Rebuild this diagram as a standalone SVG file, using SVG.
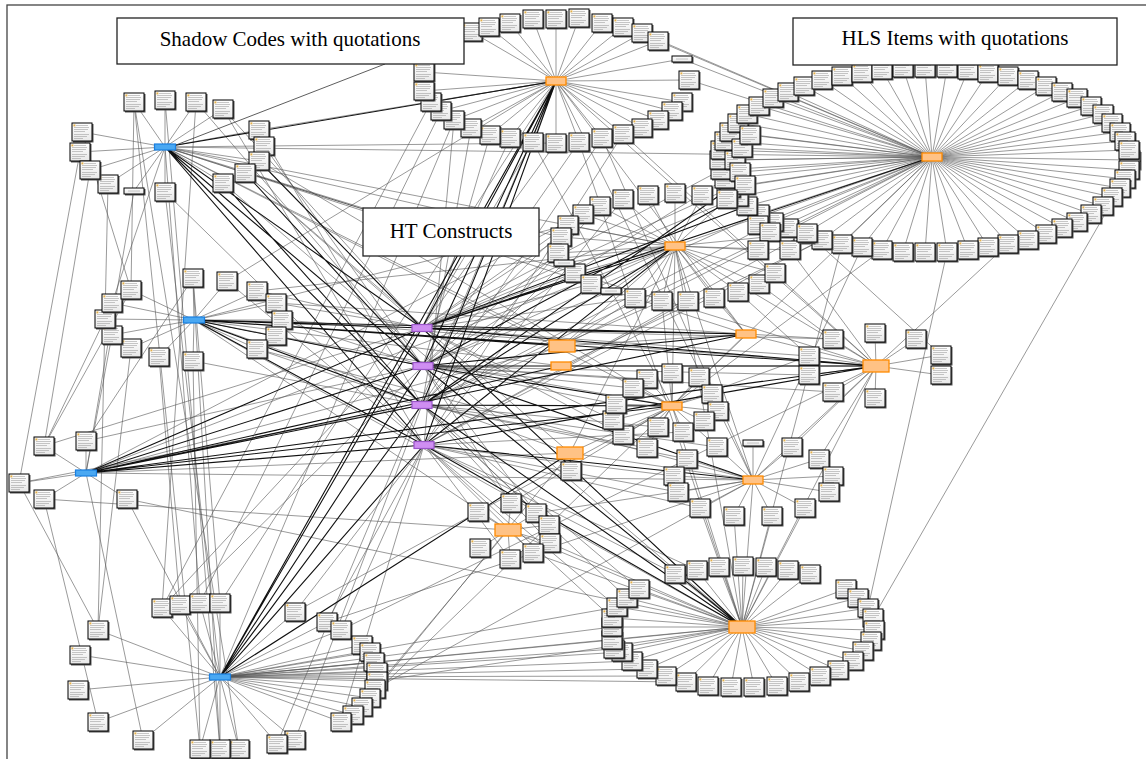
<svg xmlns="http://www.w3.org/2000/svg" width="1146" height="759" viewBox="0 0 1146 759">
<style>
.thin{fill:none;stroke:#555;stroke-width:0.6}
.thick{fill:none;stroke:#111;stroke-width:1.1}
.call{fill:none;stroke:#333;stroke-width:0.8}
.lbl{fill:#fff;stroke:#222;stroke-width:1.3}
.lt{font-family:"Liberation Serif","Times New Roman",serif;font-size:21px;fill:#000;text-anchor:middle}
</style>
<defs>
<linearGradient id="gq" x1="0" y1="0" x2="0" y2="1"><stop offset="0" stop-color="#ffffff"/><stop offset="1" stop-color="#e8e8e8"/></linearGradient>
<g id="q"><rect x="-9" y="-8" width="20.5" height="18.5" fill="#555"/><rect x="-10" y="-9" width="20" height="18" fill="url(#gq)" stroke="#000" stroke-width="1"/><rect x="-8.6" y="-7.6" width="2" height="2" fill="#e3b04b"/><path d="M-6 -6.5h12M-8 -4.5h15M-8 -2.5h14M-8 -0.5h11M-8 2.5h15M-8 4.5h13M-8 6.5h9" stroke="#9a9a9a" stroke-width="0.55"/></g>
<g id="qs"><rect x="-9" y="-2" width="20.5" height="6.5" fill="#555"/><rect x="-10" y="-3" width="20" height="6" fill="url(#gq)" stroke="#000" stroke-width="1"/><path d="M-6 0h12" stroke="#9a9a9a" stroke-width="0.55"/></g>
<g id="hb"><rect x="-10.5" y="-3" width="21" height="6" fill="#4aa8f2" stroke="#1a7fe0" stroke-width="1.2"/></g>
<g id="hp"><rect x="-10" y="-3.5" width="20" height="7" fill="#cf8ef2" stroke="#9a55c8" stroke-width="1.2"/></g>
<g id="ho"><rect x="-10" y="-4" width="20" height="8" fill="#ffc285" stroke="#ff8a00" stroke-width="1.3"/></g>
<g id="hol"><rect x="-13" y="-6" width="26" height="12" fill="#ffc285" stroke="#ff8a00" stroke-width="1.3"/></g>
</defs>
<rect x="0" y="0" width="1146" height="759" fill="#fff"/>
<rect x="7" y="5" width="1146" height="760" fill="none" stroke="#444" stroke-width="1.3"/>
<g id="connectors">
<path class="thin" d="M932 157L1130 160M932 157L1129 170M932 157L1125 179M932 157L1120 188M932 157L1112 197M932 157L1103 206M932 157L1091 214M932 157L1077 222M932 157L1062 228M932 157L1046 234M932 157L1028 240M932 157L1008 244M932 157L988 247M932 157L968 250M932 157L947 252M932 157L925 252M932 157L903 252M932 157L882 250M932 157L862 247M932 157L842 244M932 157L822 240M932 157L804 234M932 157L788 228M932 157L773 222M932 157L759 214M932 157L747 206M932 157L738 197M932 157L730 188M932 157L725 179M932 157L721 170M932 157L720 160M932 157L721 150M932 157L725 141M932 157L730 132M932 157L738 123M932 157L747 114M932 157L759 106M932 157L773 98M932 157L788 92M932 157L804 86M932 157L822 80M932 157L842 76M932 157L862 73M932 157L882 70M932 157L903 68M932 157L925 68M932 157L947 68M932 157L968 70M932 157L988 73M932 157L1008 76M932 157L1028 80M932 157L1046 86M932 157L1062 92M932 157L1077 98M932 157L1091 106M932 157L1103 114M932 157L1112 123M932 157L1120 132M932 157L1125 141M932 157L1129 150M932 157L735 160M932 157L740 172M932 157L745 185M932 157L742 148M932 157L750 135M932 157L758 225M932 157L770 232"/>
<path class="thin" d="M556 81L472 32M556 81L489 27M556 81L510 23M556 81L533 19M556 81L556 19M556 81L579 18M556 81L602 23M556 81L623 27M556 81L642 33M556 81L658 41M556 81L689 80M556 81L682 102M556 81L672 111M556 81L658 120M556 81L642 128M556 81L623 134M556 81L602 138M556 81L579 142M556 81L556 143M556 81L533 142M556 81L510 138M556 81L490 135M556 81L471 128M556 81L454 120M556 81L441 111M556 81L431 102M556 81L424 91M556 81L424 72M556 81L682 59"/>
<path class="thin" d="M675 246L623 199M675 246L600 206M675 246L583 214M675 246L568 225M675 246L561 237M675 246L558 253M675 246L575 273M675 246L591 284M675 246L635 298M675 246L662 301M675 246L688 301M675 246L714 298M675 246L738 292M675 246L759 284M675 246L775 273M675 246L790 250M675 246L807 233M675 246L758 250M675 246L648 195M675 246L675 193M675 246L702 195M675 246L727 199M675 246L564 263M675 246L611 291"/>
<path class="thin" d="M165 147L134 102M165 147L165 100M165 147L196 102M165 147L223 109M165 147L259 130M165 147L264 146M165 147L259 161M165 147L245 173M165 147L223 183M165 147L165 192M165 147L108 184M165 147L82 132M165 147L80 152M165 147L90 170M165 147L134 191"/>
<path class="thin" d="M194 320L193 278M194 320L227 281M194 320L257 291M194 320L276 303M194 320L282 320M194 320L276 336M194 320L257 349M194 320L193 361M194 320L159 357M194 320L131 348M194 320L112 335M194 320L105 319M194 320L112 303M194 320L131 290"/>
<path class="thin" d="M86 473L44 446M86 473L86 441M86 473L19 483M86 473L44 499M86 473L127 499"/>
<path class="thin" d="M220 677L162 608M220 677L180 605M220 677L200 603M220 677L220 603M220 677L295 612M220 677L327 622M220 677L341 630M220 677L362 645M220 677L370 652M220 677L374 662M220 677L377 672M220 677L377 681M220 677L375 689M220 677L370 698M220 677L362 707M220 677L353 715M220 677L341 722M220 677L295 740M220 677L277 744M220 677L239 749M220 677L220 749M220 677L200 749M220 677L143 740M220 677L98 722M220 677L98 630M220 677L80 655M220 677L78 690"/>
<path class="thin" d="M508 530L511 503M508 530L536 513M508 530L549 525M508 530L550 543M508 530L533 553M508 530L510 559M508 530L478 512M508 530L480 548"/>
<path class="thin" d="M742 627L675 574M742 627L697 570M742 627L719 567M742 627L743 566M742 627L766 567M742 627L788 570M742 627L810 574M742 627L846 589M742 627L858 598M742 627L868 608M742 627L873 618M742 627L874 630M742 627L871 641M742 627L863 651M742 627L853 661M742 627L838 670M742 627L820 676M742 627L799 682M742 627L777 686M742 627L754 687M742 627L731 687M742 627L708 686M742 627L686 682M742 627L666 676M742 627L647 669M742 627L632 661M742 627L622 652M742 627L614 649M742 627L612 640M742 627L612 627M742 627L612 618M742 627L617 607M742 627L627 598M742 627L639 589"/>
<path class="thin" d="M753 480L792 447M753 480L819 459M753 480L833 476M753 480L829 492M753 480L717 447M753 480L687 459M753 480L674 476M753 480L678 492M753 480L700 508M753 480L734 516M753 480L772 516M753 480L805 508M753 480L753 443"/>
<path class="thin" d="M672 406L647 379M672 406L672 373M672 406L699 377M672 406L712 394M672 406L718 411M672 406L704 421M672 406L683 432M672 406L658 427M672 406L647 448M672 406L623 435M672 406L613 420M672 406L616 404M672 406L633 388"/>
<path class="thin" d="M876 366L833 339M876 366L875 333M876 366L916 339M876 366L941 355M876 366L941 375M876 366L875 398M876 366L833 392M876 366L809 356M876 366L809 375M570 453L571 471"/>
<path class="thin" d="M134 102L200 749M165 100L220 749M196 102L162 608M108 184L98 630M90 170L44 446M82 132L131 290M223 109L424 445M259 130L556 81M264 146L556 143M259 161L672 406M245 173L570 453M223 183L742 627M165 192L220 677M134 191L86 473M80 152L19 483M165 147L562 346M165 147L746 334M165 147L876 366M165 147L932 157M165 147L672 406M165 147L675 246"/>
<path class="thin" d="M193 278L220 603M227 281L556 81M257 291L675 246M276 303L746 334M282 320L876 366M276 336L672 406M257 349L753 480M193 361L200 749M159 357L180 605M131 348L98 630M112 335L86 473M105 319L44 446M112 303L165 147M131 290L134 102M194 320L562 366M194 320L570 453M194 320L742 627M194 320L508 530"/>
<path class="thin" d="M44 446L422 328M86 441L422 366M19 483L422 405M44 499L508 530M127 499L742 627M86 441L193 278M44 446L131 290M127 499L220 677M86 473L562 346M86 473L570 453M86 473L753 480M86 473L675 246"/>
<path class="thin" d="M162 608L422 328M180 605L423 366M200 603L165 147M220 603L556 81M295 612L672 406M327 622L753 480M341 630L876 366M377 681L742 627M375 689L753 480M370 698L672 406M362 707L570 453M353 715L508 530M341 722L424 445M295 740L422 405M277 744L556 81M239 749L134 102M220 749L193 278M143 740L86 473M98 722L44 499M98 630L19 483M220 677L612 640M220 677L614 649M220 677L622 652M220 677L632 661M220 677L647 669M220 677L666 676M220 677L686 682M220 677L742 627M220 677L612 627M220 677L617 607"/>
<path class="thin" d="M422 328L223 109M422 328L245 173M422 328L257 291M422 328L276 303M422 328L510 138M422 328L533 142M422 328L556 143M422 328L583 214M422 328L561 237M422 328L575 273M422 328L591 284M422 328L635 298M422 328L623 435M422 328L613 420M422 328L809 356M422 328L833 339M422 328L738 197M422 328L730 188M422 328L721 170"/>
<path class="thin" d="M423 366L196 102M423 366L264 146M423 366L282 320M423 366L276 336M423 366L490 135M423 366L579 142M423 366L568 225M423 366L558 253M423 366L611 291M423 366L616 404M423 366L633 388M423 366L647 379M423 366L809 375M423 366L833 392M423 366L725 179M423 366L759 214M423 366L511 503M423 366L536 513"/>
<path class="thin" d="M422 405L259 130M422 405L257 349M422 405L193 361M422 405L471 128M422 405L602 138M422 405L600 206M422 405L564 263M422 405L662 301M422 405L647 448M422 405L658 427M422 405L717 447M422 405L687 459M422 405L549 525M422 405L550 543M422 405L627 598M422 405L639 589M422 405L773 222M422 405L788 228"/>
<path class="thin" d="M424 445L165 192M424 445L227 281M424 445L454 120M424 445L623 134M424 445L623 199M424 445L688 301M424 445L683 432M424 445L674 476M424 445L678 492M424 445L700 508M424 445L533 553M424 445L510 559M424 445L617 607M424 445L612 618M424 445L675 574M424 445L697 570M424 445L804 234M424 445L822 240M424 445L341 630M424 445L327 622M424 445L295 612"/>
<path class="thin" d="M454 120L220 677M441 111L200 603M431 102L162 608M642 33L932 157M658 41L932 157M682 59L932 157M689 80L932 157M556 81L746 334M556 81L876 366M556 81L753 480M579 142L742 627M602 138L753 480M533 142L672 406M623 134L876 366M932 157L675 246M932 157L562 346M932 157L672 406M947 252L868 608M1008 244L876 366M1120 188L873 618M862 247L753 480M842 244L742 627M882 250L672 406M822 240L562 366"/>
<path class="thin" d="M675 246L746 334M675 246L876 366M675 246L672 406M675 246L753 480M675 246L742 627M675 246L562 346M675 246L570 453M790 250L876 366M807 233L941 355M759 284L833 339M738 292L809 356M714 298L746 334M662 301L672 406M635 298L562 346M561 237L165 147M568 225L194 320M583 214L86 473M746 334L562 346M746 334L672 406M746 334L876 366M876 366L562 366M672 406L570 453M753 480L570 453M742 627L508 530M753 480L742 627M672 406L742 627M876 366L742 627M876 366L753 480M833 339L746 334M809 356L672 406M792 447L876 366M819 459L876 366M717 447L672 406M805 508L742 627M772 516L742 627M734 516L742 627M700 508L742 627M511 503L672 406M536 513L753 480M550 543L742 627M533 553L742 627"/>
<path class="thick" d="M165 147L422 328M165 147L423 366M165 147L422 405M165 147L424 445M165 147L556 81M259 161L422 328M245 173L423 366M223 183L422 405M194 320L422 328M194 320L423 366M194 320L422 405M194 320L424 445M194 320L562 346M194 320L746 334M194 320L876 366M86 473L422 328M86 473L423 366M86 473L422 405M86 473L424 445M86 473L561 366M86 473L672 406M86 473L746 334M86 473L876 366M220 677L422 328M220 677L423 366M220 677L422 405M220 677L424 445M220 677L556 81M220 677L570 453M556 81L422 328M556 81L423 366M556 81L422 405M556 81L424 445M422 328L746 334M422 328L876 366M422 328L675 246M422 328L932 157M423 366L672 406M423 366L876 366M423 366L753 480M423 366L746 334M422 405L742 627M422 405L672 406M422 405L675 246M424 445L742 627M424 445L753 480M424 445L876 366M424 445L675 246M747 206L422 328M738 197L423 366M730 188L422 405M422 328L742 627M423 366L742 627"/>
<path class="call" d="M385 64L176 145M363 209L257 176"/>
</g>
<g id="quotations">
<g id="hls1"><use href="#q" x="1130" y="160"/></g><g id="hls2"><use href="#q" x="1129" y="170"/></g><g id="hls3"><use href="#q" x="1125" y="179"/></g><g id="hls4"><use href="#q" x="1120" y="188"/></g><g id="hls5"><use href="#q" x="1112" y="197"/></g><g id="hls6"><use href="#q" x="1103" y="206"/></g><g id="hls7"><use href="#q" x="1091" y="214"/></g><g id="hls8"><use href="#q" x="1077" y="222"/></g><g id="hls9"><use href="#q" x="1062" y="228"/></g><g id="hls10"><use href="#q" x="1046" y="234"/></g><g id="hls11"><use href="#q" x="1028" y="240"/></g><g id="hls12"><use href="#q" x="1008" y="244"/></g><g id="hls13"><use href="#q" x="988" y="247"/></g><g id="hls14"><use href="#q" x="968" y="250"/></g><g id="hls15"><use href="#q" x="947" y="252"/></g><g id="hls16"><use href="#q" x="925" y="252"/></g><g id="hls17"><use href="#q" x="903" y="252"/></g><g id="hls18"><use href="#q" x="882" y="250"/></g><g id="hls19"><use href="#q" x="862" y="247"/></g><g id="hls20"><use href="#q" x="842" y="244"/></g><g id="hls21"><use href="#q" x="822" y="240"/></g><g id="hls22"><use href="#q" x="804" y="234"/></g><g id="hls23"><use href="#q" x="788" y="228"/></g><g id="hls24"><use href="#q" x="773" y="222"/></g><g id="hls25"><use href="#q" x="759" y="214"/></g><g id="hls26"><use href="#q" x="747" y="206"/></g><g id="hls27"><use href="#q" x="738" y="197"/></g><g id="hls28"><use href="#q" x="730" y="188"/></g><g id="hls29"><use href="#q" x="725" y="179"/></g><g id="hls30"><use href="#q" x="721" y="170"/></g><g id="hls31"><use href="#q" x="720" y="160"/></g><g id="hls32"><use href="#q" x="721" y="150"/></g><g id="hls33"><use href="#q" x="725" y="141"/></g><g id="hls34"><use href="#q" x="730" y="132"/></g><g id="hls35"><use href="#q" x="738" y="123"/></g><g id="hls36"><use href="#q" x="747" y="114"/></g><g id="hls37"><use href="#q" x="759" y="106"/></g><g id="hls38"><use href="#q" x="773" y="98"/></g><g id="hls39"><use href="#q" x="788" y="92"/></g><g id="hls40"><use href="#q" x="804" y="86"/></g><g id="hls41"><use href="#q" x="822" y="80"/></g><g id="hls42"><use href="#q" x="842" y="76"/></g><g id="hls43"><use href="#q" x="862" y="73"/></g><g id="hls44"><use href="#q" x="882" y="70"/></g><g id="hls45"><use href="#q" x="903" y="68"/></g><g id="hls46"><use href="#q" x="925" y="68"/></g><g id="hls47"><use href="#q" x="947" y="68"/></g><g id="hls48"><use href="#q" x="968" y="70"/></g><g id="hls49"><use href="#q" x="988" y="73"/></g><g id="hls50"><use href="#q" x="1008" y="76"/></g><g id="hls51"><use href="#q" x="1028" y="80"/></g><g id="hls52"><use href="#q" x="1046" y="86"/></g><g id="hls53"><use href="#q" x="1062" y="92"/></g><g id="hls54"><use href="#q" x="1077" y="98"/></g><g id="hls55"><use href="#q" x="1091" y="106"/></g><g id="hls56"><use href="#q" x="1103" y="114"/></g><g id="hls57"><use href="#q" x="1112" y="123"/></g><g id="hls58"><use href="#q" x="1120" y="132"/></g><g id="hls59"><use href="#q" x="1125" y="141"/></g><g id="hls60"><use href="#q" x="1129" y="150"/></g><g id="hls61"><use href="#q" x="735" y="160"/></g><g id="hls62"><use href="#q" x="740" y="172"/></g><g id="hls63"><use href="#q" x="745" y="185"/></g><g id="hls64"><use href="#q" x="742" y="148"/></g><g id="hls65"><use href="#q" x="750" y="135"/></g><g id="hls66"><use href="#q" x="758" y="225"/></g><g id="hls67"><use href="#q" x="770" y="232"/></g>
<g id="t1"><use href="#q" x="472" y="32"/></g><g id="t2"><use href="#q" x="489" y="27"/></g><g id="t3"><use href="#q" x="510" y="23"/></g><g id="t4"><use href="#q" x="533" y="19"/></g><g id="t5"><use href="#q" x="556" y="19"/></g><g id="t6"><use href="#q" x="579" y="18"/></g><g id="t7"><use href="#q" x="602" y="23"/></g><g id="t8"><use href="#q" x="623" y="27"/></g><g id="t9"><use href="#q" x="642" y="33"/></g><g id="t10"><use href="#q" x="658" y="41"/></g><g id="t11"><use href="#q" x="689" y="80"/></g><g id="t12"><use href="#q" x="682" y="102"/></g><g id="t13"><use href="#q" x="672" y="111"/></g><g id="t14"><use href="#q" x="658" y="120"/></g><g id="t15"><use href="#q" x="642" y="128"/></g><g id="t16"><use href="#q" x="623" y="134"/></g><g id="t17"><use href="#q" x="602" y="138"/></g><g id="t18"><use href="#q" x="579" y="142"/></g><g id="t19"><use href="#q" x="556" y="143"/></g><g id="t20"><use href="#q" x="533" y="142"/></g><g id="t21"><use href="#q" x="510" y="138"/></g><g id="t22"><use href="#q" x="490" y="135"/></g><g id="t23"><use href="#q" x="471" y="128"/></g><g id="t24"><use href="#q" x="454" y="120"/></g><g id="t25"><use href="#q" x="441" y="111"/></g><g id="t26"><use href="#q" x="431" y="102"/></g><g id="t27"><use href="#q" x="424" y="91"/></g><g id="t28"><use href="#q" x="424" y="72"/></g><g id="t29"><use href="#qs" x="682" y="59"/></g>
<g id="m1"><use href="#q" x="623" y="199"/></g><g id="m2"><use href="#q" x="600" y="206"/></g><g id="m3"><use href="#q" x="583" y="214"/></g><g id="m4"><use href="#q" x="568" y="225"/></g><g id="m5"><use href="#q" x="561" y="237"/></g><g id="m6"><use href="#q" x="558" y="253"/></g><g id="m7"><use href="#q" x="575" y="273"/></g><g id="m8"><use href="#q" x="591" y="284"/></g><g id="m9"><use href="#q" x="635" y="298"/></g><g id="m10"><use href="#q" x="662" y="301"/></g><g id="m11"><use href="#q" x="688" y="301"/></g><g id="m12"><use href="#q" x="714" y="298"/></g><g id="m13"><use href="#q" x="738" y="292"/></g><g id="m14"><use href="#q" x="759" y="284"/></g><g id="m15"><use href="#q" x="775" y="273"/></g><g id="m16"><use href="#q" x="790" y="250"/></g><g id="m17"><use href="#q" x="807" y="233"/></g><g id="m18"><use href="#q" x="758" y="250"/></g><g id="m19"><use href="#q" x="648" y="195"/></g><g id="m20"><use href="#q" x="675" y="193"/></g><g id="m21"><use href="#q" x="702" y="195"/></g><g id="m22"><use href="#q" x="727" y="199"/></g><g id="m23"><use href="#qs" x="564" y="263"/></g><g id="m24"><use href="#qs" x="611" y="291"/></g>
<g id="b1q1"><use href="#q" x="134" y="102"/></g><g id="b1q2"><use href="#q" x="165" y="100"/></g><g id="b1q3"><use href="#q" x="196" y="102"/></g><g id="b1q4"><use href="#q" x="223" y="109"/></g><g id="b1q5"><use href="#q" x="259" y="130"/></g><g id="b1q6"><use href="#q" x="264" y="146"/></g><g id="b1q7"><use href="#q" x="259" y="161"/></g><g id="b1q8"><use href="#q" x="245" y="173"/></g><g id="b1q9"><use href="#q" x="223" y="183"/></g><g id="b1q10"><use href="#q" x="165" y="192"/></g><g id="b1q11"><use href="#q" x="108" y="184"/></g><g id="b1q12"><use href="#q" x="82" y="132"/></g><g id="b1q13"><use href="#q" x="80" y="152"/></g><g id="b1q14"><use href="#q" x="90" y="170"/></g><g id="b1q15"><use href="#qs" x="134" y="191"/></g>
<g id="b2q1"><use href="#q" x="193" y="278"/></g><g id="b2q2"><use href="#q" x="227" y="281"/></g><g id="b2q3"><use href="#q" x="257" y="291"/></g><g id="b2q4"><use href="#q" x="276" y="303"/></g><g id="b2q5"><use href="#q" x="282" y="320"/></g><g id="b2q6"><use href="#q" x="276" y="336"/></g><g id="b2q7"><use href="#q" x="257" y="349"/></g><g id="b2q8"><use href="#q" x="193" y="361"/></g><g id="b2q9"><use href="#q" x="159" y="357"/></g><g id="b2q10"><use href="#q" x="131" y="348"/></g><g id="b2q11"><use href="#q" x="112" y="335"/></g><g id="b2q12"><use href="#q" x="105" y="319"/></g><g id="b2q13"><use href="#q" x="112" y="303"/></g><g id="b2q14"><use href="#q" x="131" y="290"/></g>
<g id="b3q1"><use href="#q" x="44" y="446"/></g><g id="b3q2"><use href="#q" x="86" y="441"/></g><g id="b3q3"><use href="#q" x="19" y="483"/></g><g id="b3q4"><use href="#q" x="44" y="499"/></g><g id="b3q5"><use href="#q" x="127" y="499"/></g>
<g id="b4q1"><use href="#q" x="162" y="608"/></g><g id="b4q2"><use href="#q" x="180" y="605"/></g><g id="b4q3"><use href="#q" x="200" y="603"/></g><g id="b4q4"><use href="#q" x="220" y="603"/></g><g id="b4q5"><use href="#q" x="295" y="612"/></g><g id="b4q6"><use href="#q" x="327" y="622"/></g><g id="b4q7"><use href="#q" x="341" y="630"/></g><g id="b4q8"><use href="#q" x="362" y="645"/></g><g id="b4q9"><use href="#q" x="370" y="652"/></g><g id="b4q10"><use href="#q" x="374" y="662"/></g><g id="b4q11"><use href="#q" x="377" y="672"/></g><g id="b4q12"><use href="#q" x="377" y="681"/></g><g id="b4q13"><use href="#q" x="375" y="689"/></g><g id="b4q14"><use href="#q" x="370" y="698"/></g><g id="b4q15"><use href="#q" x="362" y="707"/></g><g id="b4q16"><use href="#q" x="353" y="715"/></g><g id="b4q17"><use href="#q" x="341" y="722"/></g><g id="b4q18"><use href="#q" x="295" y="740"/></g><g id="b4q19"><use href="#q" x="277" y="744"/></g><g id="b4q20"><use href="#q" x="239" y="749"/></g><g id="b4q21"><use href="#q" x="220" y="749"/></g><g id="b4q22"><use href="#q" x="200" y="749"/></g><g id="b4q23"><use href="#q" x="143" y="740"/></g><g id="b4q24"><use href="#q" x="98" y="722"/></g><g id="b4q25"><use href="#q" x="98" y="630"/></g><g id="b4q26"><use href="#q" x="80" y="655"/></g><g id="b4q27"><use href="#q" x="78" y="690"/></g>
<g id="hq1"><use href="#q" x="511" y="503"/></g><g id="hq2"><use href="#q" x="536" y="513"/></g><g id="hq3"><use href="#q" x="549" y="525"/></g><g id="hq4"><use href="#q" x="550" y="543"/></g><g id="hq5"><use href="#q" x="533" y="553"/></g><g id="hq6"><use href="#q" x="510" y="559"/></g><g id="hq7"><use href="#q" x="478" y="512"/></g><g id="hq8"><use href="#q" x="480" y="548"/></g>
<g id="iq1"><use href="#q" x="675" y="574"/></g><g id="iq2"><use href="#q" x="697" y="570"/></g><g id="iq3"><use href="#q" x="719" y="567"/></g><g id="iq4"><use href="#q" x="743" y="566"/></g><g id="iq5"><use href="#q" x="766" y="567"/></g><g id="iq6"><use href="#q" x="788" y="570"/></g><g id="iq7"><use href="#q" x="810" y="574"/></g><g id="iq8"><use href="#q" x="846" y="589"/></g><g id="iq9"><use href="#q" x="858" y="598"/></g><g id="iq10"><use href="#q" x="868" y="608"/></g><g id="iq11"><use href="#q" x="873" y="618"/></g><g id="iq12"><use href="#q" x="874" y="630"/></g><g id="iq13"><use href="#q" x="871" y="641"/></g><g id="iq14"><use href="#q" x="863" y="651"/></g><g id="iq15"><use href="#q" x="853" y="661"/></g><g id="iq16"><use href="#q" x="838" y="670"/></g><g id="iq17"><use href="#q" x="820" y="676"/></g><g id="iq18"><use href="#q" x="799" y="682"/></g><g id="iq19"><use href="#q" x="777" y="686"/></g><g id="iq20"><use href="#q" x="754" y="687"/></g><g id="iq21"><use href="#q" x="731" y="687"/></g><g id="iq22"><use href="#q" x="708" y="686"/></g><g id="iq23"><use href="#q" x="686" y="682"/></g><g id="iq24"><use href="#q" x="666" y="676"/></g><g id="iq25"><use href="#q" x="647" y="669"/></g><g id="iq26"><use href="#q" x="632" y="661"/></g><g id="iq27"><use href="#q" x="622" y="652"/></g><g id="iq28"><use href="#q" x="614" y="649"/></g><g id="iq29"><use href="#q" x="612" y="640"/></g><g id="iq30"><use href="#q" x="612" y="627"/></g><g id="iq31"><use href="#q" x="612" y="618"/></g><g id="iq32"><use href="#q" x="617" y="607"/></g><g id="iq33"><use href="#q" x="627" y="598"/></g><g id="iq34"><use href="#q" x="639" y="589"/></g>
<g id="gq1"><use href="#q" x="792" y="447"/></g><g id="gq2"><use href="#q" x="819" y="459"/></g><g id="gq3"><use href="#q" x="833" y="476"/></g><g id="gq4"><use href="#q" x="829" y="492"/></g><g id="gq5"><use href="#q" x="717" y="447"/></g><g id="gq6"><use href="#q" x="687" y="459"/></g><g id="gq7"><use href="#q" x="674" y="476"/></g><g id="gq8"><use href="#q" x="678" y="492"/></g><g id="gq9"><use href="#q" x="700" y="508"/></g><g id="gq10"><use href="#q" x="734" y="516"/></g><g id="gq11"><use href="#q" x="772" y="516"/></g><g id="gq12"><use href="#q" x="805" y="508"/></g><g id="gq13"><use href="#qs" x="753" y="443"/></g>
<g id="eq1"><use href="#q" x="647" y="379"/></g><g id="eq2"><use href="#q" x="672" y="373"/></g><g id="eq3"><use href="#q" x="699" y="377"/></g><g id="eq4"><use href="#q" x="712" y="394"/></g><g id="eq5"><use href="#q" x="718" y="411"/></g><g id="eq6"><use href="#q" x="704" y="421"/></g><g id="eq7"><use href="#q" x="683" y="432"/></g><g id="eq8"><use href="#q" x="658" y="427"/></g><g id="eq9"><use href="#q" x="647" y="448"/></g><g id="eq10"><use href="#q" x="623" y="435"/></g><g id="eq11"><use href="#q" x="613" y="420"/></g><g id="eq12"><use href="#q" x="616" y="404"/></g><g id="eq13"><use href="#q" x="633" y="388"/></g>
<g id="dq1"><use href="#q" x="833" y="339"/></g><g id="dq2"><use href="#q" x="875" y="333"/></g><g id="dq3"><use href="#q" x="916" y="339"/></g><g id="dq4"><use href="#q" x="941" y="355"/></g><g id="dq5"><use href="#q" x="941" y="375"/></g><g id="dq6"><use href="#q" x="875" y="398"/></g><g id="dq7"><use href="#q" x="833" y="392"/></g><g id="dq8"><use href="#q" x="809" y="356"/></g><g id="dq9"><use href="#q" x="809" y="375"/></g>
<g id="fq1"><use href="#q" x="571" y="471"/></g>
</g>
<g id="hubs">
<g id="shadow1"><use href="#hb" x="165" y="147"/></g>
<g id="shadow2"><use href="#hb" x="194" y="320"/></g>
<g id="shadow3"><use href="#hb" x="86" y="473"/></g>
<g id="shadow4"><use href="#hb" x="220" y="677"/></g>
<g id="ht1"><use href="#hp" x="422" y="328"/></g>
<g id="ht2"><use href="#hp" x="423" y="366"/></g>
<g id="ht3"><use href="#hp" x="422" y="405"/></g>
<g id="ht4"><use href="#hp" x="424" y="445"/></g>
<g id="hls-a"><use href="#ho" x="556" y="81"/></g>
<g id="hls-b"><use href="#ho" x="932" y="157"/></g>
<g id="hls-c"><use href="#ho" x="675" y="246"/></g>
<g id="hls-d"><use href="#hol" x="562" y="346"/></g>
<g id="hls-e"><use href="#ho" x="561" y="366"/></g>
<g id="hls-f"><use href="#ho" x="746" y="334"/></g>
<g id="hls-g"><use href="#hol" x="876" y="366"/></g>
<g id="hls-h"><use href="#ho" x="672" y="406"/></g>
<g id="hls-i"><use href="#hol" x="570" y="453"/></g>
<g id="hls-j"><use href="#ho" x="753" y="480"/></g>
<g id="hls-k"><use href="#hol" x="508" y="530"/></g>
<g id="hls-l"><use href="#hol" x="742" y="627"/></g>
</g>
<g id="label-shadow"><rect class="lbl" x="117" y="18" width="347" height="46"/><text class="lt" x="290" y="46">Shadow Codes with quotations</text></g>
<g id="label-hls"><rect class="lbl" x="793" y="18" width="324" height="47"/><text class="lt" x="955" y="45">HLS Items with quotations</text></g>
<g id="label-ht"><rect class="lbl" x="363" y="208" width="176" height="48"/><text class="lt" x="451" y="238">HT Constructs</text></g>
</svg>
